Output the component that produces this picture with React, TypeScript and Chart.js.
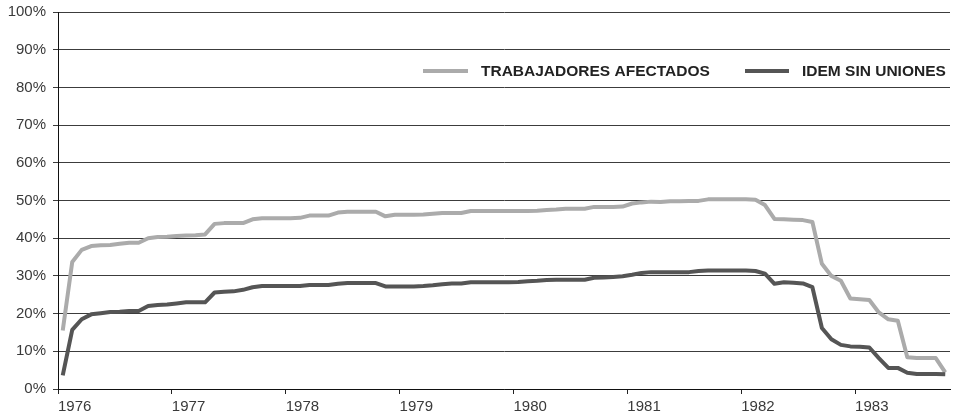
import React, { useEffect, useRef } from "react";
import { Chart, registerables } from "chart.js";

Chart.register(...registerables);

const yearLabels = ["1976", "1977", "1978", "1979", "1980", "1981", "1982", "1983"];
const monthsPerYear = 12;

const seriesNames = ["TRABAJADORES AFECTADOS", "IDEM SIN UNIONES"];
const seriesColors = ["#ababab", "#555555"];

const afectados = [
  15.5, 33.7, 36.9, 37.9, 38.1, 38.2, 38.5, 38.8, 38.8, 40.0, 40.3, 40.4,
  40.6, 40.7, 40.8, 41.0, 43.8, 44.0, 44.0, 44.0, 45.0, 45.3, 45.3, 45.3,
  45.3, 45.4, 46.0, 46.0, 46.0, 46.8, 47.0, 47.0, 47.0, 47.0, 45.8, 46.2,
  46.2, 46.2, 46.3, 46.5, 46.7, 46.7, 46.7, 47.2, 47.2, 47.2, 47.2, 47.2,
  47.2, 47.2, 47.3, 47.5, 47.6, 47.8, 47.8, 47.8, 48.3, 48.3, 48.3, 48.4,
  49.2, 49.5, 49.7, 49.6, 49.8, 49.8, 49.9, 49.9, 50.3, 50.3, 50.3, 50.3,
  50.3, 50.2, 48.8, 45.1, 45.0, 44.9, 44.8, 44.3, 33.2, 30.0, 28.7, 24.0,
  23.8, 23.6, 20.3, 18.5, 18.1, 8.4, 8.2, 8.2, 8.2, 4.4,
];

const sinUniones = [
  3.6, 15.7, 18.5, 19.8, 20.1, 20.4, 20.5, 20.7, 20.7, 22.0, 22.3, 22.4,
  22.7, 23.0, 23.0, 23.0, 25.6, 25.8, 25.9, 26.3, 27.0, 27.3, 27.3, 27.3,
  27.3, 27.3, 27.6, 27.6, 27.6, 27.9, 28.1, 28.1, 28.1, 28.1, 27.2, 27.2,
  27.2, 27.2, 27.3, 27.5, 27.8, 28.0, 28.0, 28.3, 28.3, 28.3, 28.3, 28.3,
  28.4, 28.6, 28.7, 28.9, 29.0, 29.0, 29.0, 29.0, 29.5, 29.6, 29.7, 29.9,
  30.3, 30.8, 31.0, 31.0, 31.0, 31.0, 31.0, 31.3, 31.4, 31.4, 31.4, 31.4,
  31.4, 31.3, 30.6, 27.9, 28.3, 28.2, 28.0, 27.0, 16.2, 13.2, 11.7, 11.3,
  11.2, 11.0, 8.2, 5.6, 5.6, 4.3, 4.0, 4.0, 4.0, 3.9,
];

const toPoints = (vals: number[]) => vals.map((v, i) => ({ x: i + 0.5, y: v }));

const legendPlugin = {
  id: "customLegend",
  afterDraw(chart: any) {
    const { ctx } = chart;
    const y = 71;
    const items = [
      { x0: 423, x1: 468, tx: 481 },
      { x0: 745, x1: 789, tx: 802 },
    ];
    ctx.save();
    chart.data.datasets.forEach((ds: any, i: number) => {
      const it = items[i];
      ctx.strokeStyle = ds.borderColor;
      ctx.lineWidth = 4;
      ctx.lineCap = "butt";
      ctx.beginPath();
      ctx.moveTo(it.x0, y);
      ctx.lineTo(it.x1, y);
      ctx.stroke();
      ctx.fillStyle = "#222222";
      ctx.font = "bold 15.5px 'Liberation Sans', Arial, sans-serif";
      ctx.textBaseline = "middle";
      ctx.textAlign = "left";
      ctx.fillText(ds.label, it.tx, y + 0.5);
    });
    ctx.restore();
  },
};

export default function App() {
  const ref = useRef<HTMLCanvasElement | null>(null);

  useEffect(() => {
    document.body.style.margin = "0";
    const canvas = ref.current;
    if (!canvas) return;
    const totalMonths = afectados.length;
    const tickFont = { family: "'Liberation Sans', Arial, sans-serif", size: 15 };
    const chart = new Chart(canvas, {
      type: "line",
      data: {
        datasets: [
          {
            label: seriesNames[0],
            data: toPoints(afectados),
            borderColor: seriesColors[0],
            backgroundColor: seriesColors[0],
            borderWidth: 4,
            pointRadius: 0,
            tension: 0,
            borderJoinStyle: "round",
            order: 2,
          },
          {
            label: seriesNames[1],
            data: toPoints(sinUniones),
            borderColor: seriesColors[1],
            backgroundColor: seriesColors[1],
            borderWidth: 4,
            pointRadius: 0,
            tension: 0,
            borderJoinStyle: "round",
            order: 1,
          },
        ],
      },
      options: {
        responsive: false,
        animation: false,
        layout: { padding: { top: 12, right: 6, left: 0, bottom: 0 } },
        plugins: {
          legend: { display: false },
          tooltip: { enabled: false },
        },
        scales: {
          x: {
            type: "linear",
            min: 0,
            max: totalMonths,
            afterFit: (s: any) => {
              s.height = 29;
              s.paddingLeft = 0;
              s.paddingRight = 0;
            },
            border: { display: true, color: "#111111", width: 1 },
            grid: {
              drawOnChartArea: false,
              drawTicks: true,
              tickLength: 5,
              color: "#222222",
            },
            ticks: {
              stepSize: monthsPerYear,
              includeBounds: false,
              autoSkip: false,
              maxRotation: 0,
              minRotation: 0,
              align: "start",
              padding: 4,
              color: "#3a3a3a",
              font: tickFont,
              callback: (v: any) => {
                const idx = Math.round(Number(v) / monthsPerYear);
                return Number(v) % monthsPerYear === 0 ? yearLabels[idx] ?? "" : "";
              },
            },
          },
          y: {
            min: 0,
            max: 100,
            afterFit: (s: any) => {
              s.width = 58;
              s.paddingTop = 0;
              s.paddingBottom = 0;
            },
            border: { display: true, color: "#111111", width: 1 },
            grid: {
              color: "#3c3c3c",
              lineWidth: 1,
              tickLength: 5,
              drawTicks: true,
            },
            ticks: {
              stepSize: 10,
              padding: 7,
              color: "#3a3a3a",
              font: tickFont,
              callback: (v: any) => `${v}%`,
            },
          },
        },
      },
      plugins: [legendPlugin],
    });
    return () => chart.destroy();
  }, []);

  return (
    <div style={{ width: 956, height: 418, background: "#ffffff" }}>
      <canvas ref={ref} width={956} height={418} style={{ display: "block" }} />
    </div>
  );
}
